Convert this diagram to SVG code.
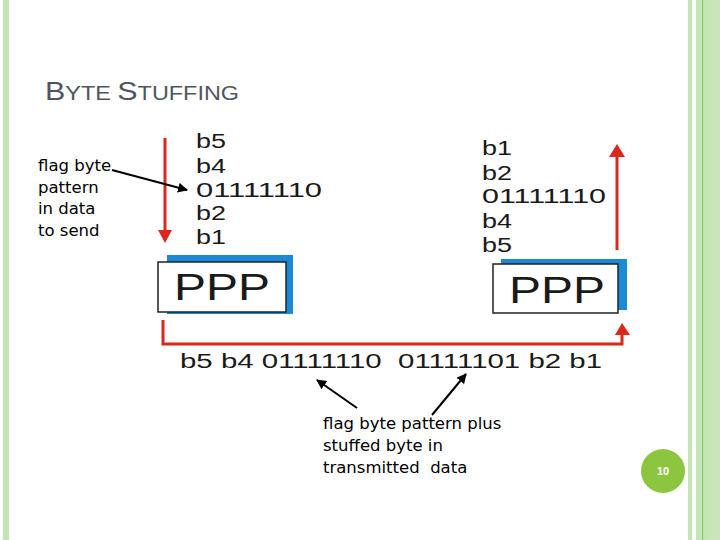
<svg xmlns="http://www.w3.org/2000/svg" width="720" height="540" viewBox="0 0 720 540">
<defs>
<style>
.mono{font-family:"Liberation Sans","DejaVu Sans",sans-serif;fill:#1a1a1a}
.hand{font-family:"DejaVu Sans","Liberation Sans",sans-serif;font-size:16.5px;fill:#000}
.red{stroke:#d9291c;stroke-width:3;fill:none}
.blk{stroke:#000;stroke-width:2;fill:none}
</style>
<marker id="ah" viewBox="0 0 10 10" refX="9" refY="5" markerWidth="5" markerHeight="5" orient="auto"><path d="M0,0 L10,5 L0,10 z" fill="#000"/></marker>
</defs>
<rect width="720" height="540" fill="#fff"/>
<g id="border">
<rect x="3" y="0" width="6" height="540" fill="#c5e6b4"/>
<rect x="688" y="0" width="4" height="540" fill="#c5e6b4"/>
<rect x="696" y="0" width="24" height="540" fill="#c3e6b2"/>
<rect x="702" y="0" width="1.2" height="540" fill="#8fc47a"/>
<rect x="708" y="0" width="12" height="540" fill="#c8e6ba"/>
</g>
<text id="title" x="45" y="100" font-family="'Liberation Sans',sans-serif" fill="#50565e" textLength="194" lengthAdjust="spacingAndGlyphs"><tspan font-size="26">B</tspan><tspan font-size="20">YTE </tspan><tspan font-size="26">S</tspan><tspan font-size="20">TUFFING</tspan></text>
<g id="sender-stack" class="mono" font-size="20">
<text x="196" y="148" textLength="30" lengthAdjust="spacingAndGlyphs">b5</text>
<text x="196" y="173" textLength="30" lengthAdjust="spacingAndGlyphs">b4</text>
<text x="196" y="197" textLength="126" lengthAdjust="spacingAndGlyphs">01111110</text>
<text x="196" y="220" textLength="30" lengthAdjust="spacingAndGlyphs">b2</text>
<text x="196" y="244" textLength="30" lengthAdjust="spacingAndGlyphs">b1</text>
</g>
<g id="receiver-stack" class="mono" font-size="20">
<text x="482" y="155" textLength="30" lengthAdjust="spacingAndGlyphs">b1</text>
<text x="482" y="180" textLength="30" lengthAdjust="spacingAndGlyphs">b2</text>
<text x="482" y="203" textLength="124" lengthAdjust="spacingAndGlyphs">01111110</text>
<text x="482" y="228" textLength="30" lengthAdjust="spacingAndGlyphs">b4</text>
<text x="482" y="252" textLength="30" lengthAdjust="spacingAndGlyphs">b5</text>
</g>
<g id="ppp-sender">
<rect x="167" y="255" width="126" height="59" fill="#1a8ad6"/>
<rect x="158" y="262" width="128" height="50" fill="#fff" stroke="#222" stroke-width="1.5"/>
<text x="222" y="300" class="mono" font-size="36" text-anchor="middle" textLength="96" lengthAdjust="spacingAndGlyphs">PPP</text>
</g>
<g id="ppp-receiver">
<rect x="501" y="259" width="126" height="51" fill="#1a8ad6"/>
<rect x="493" y="264" width="125" height="49" fill="#fff" stroke="#222" stroke-width="1.5"/>
<text x="557" y="303" class="mono" font-size="36" text-anchor="middle" textLength="96" lengthAdjust="spacingAndGlyphs">PPP</text>
</g>
<text id="stream" x="180" y="368" class="mono" font-size="20" textLength="422" lengthAdjust="spacingAndGlyphs" xml:space="preserve">b5 b4 01111110  01111101 b2 b1</text>
<g id="label-send" class="hand">
<text x="38" y="171">flag byte</text>
<text x="38" y="193">pattern</text>
<text x="38" y="214">in data</text>
<text x="38" y="236">to send</text>
</g>
<g id="label-stuffed" class="hand">
<text x="323" y="429">flag byte pattern plus</text>
<text x="323" y="451">stuffed byte in</text>
<text x="323" y="473" xml:space="preserve">transmitted  data</text>
</g>
<g id="connectors">
<line class="red" x1="165" y1="138" x2="165" y2="231"/>
<polygon points="158,230 172,230 165,243" fill="#d9291c"/>
<line class="red" x1="617" y1="250" x2="617" y2="156"/>
<polygon points="609,157 625,157 617,144" fill="#d9291c"/>
<polyline class="red" points="163,320 163,344 622,344 622,334"/>
<polygon points="615,335 630,335 622,323" fill="#d9291c"/>
<line class="blk" x1="112" y1="170" x2="187" y2="190" marker-end="url(#ah)"/>
<line class="blk" x1="357" y1="408" x2="317" y2="380" marker-end="url(#ah)"/>
<line class="blk" x1="432" y1="415" x2="466" y2="374" marker-end="url(#ah)"/>
</g>
<g id="page-number">
<circle cx="663" cy="471" r="22" fill="#8cc63f"/>
<text x="663" y="475" text-anchor="middle" font-family="'Liberation Sans',sans-serif" font-size="11" font-weight="bold" fill="#fff">10</text>
</g>
</svg>
